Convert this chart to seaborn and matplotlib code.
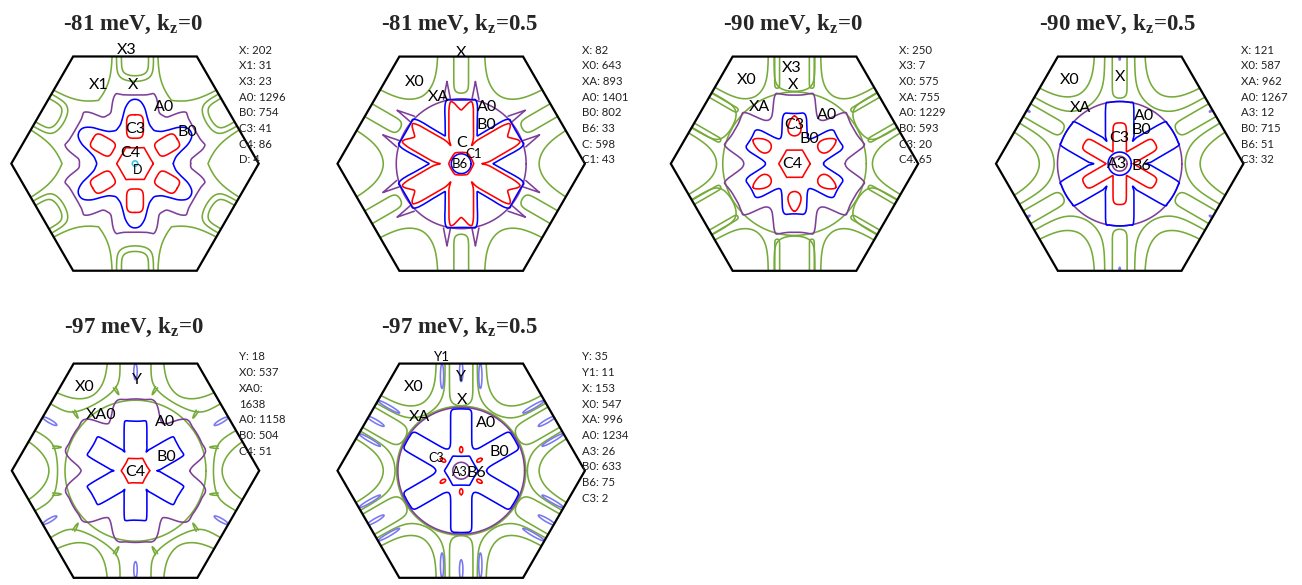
import numpy as np
import pandas as pd
import seaborn as sns
import matplotlib.pyplot as plt
from matplotlib.patches import Polygon

# style
sns.set_theme(style="white")
plt.rcParams['font.family'] = ['Lato', 'DejaVu Sans']
plt.rcParams['mathtext.fontset'] = 'custom'
plt.rcParams['mathtext.rm'] = 'Liberation Serif'
plt.rcParams['mathtext.bf'] = 'Liberation Serif:bold'

GREEN, PURPLE, BLUE, RED = '#76ab3a', '#7f3f98', '#0000ff', '#ff0000'
CYAN, LAV = '#3cc6de', '#7878f0'

# ---- data (hexagon corner = 1) ----
titles = ['-81 meV, k$_\\mathbf{z}$=0', '-81 meV, k$_\\mathbf{z}$=0.5',
          '-90 meV, k$_\\mathbf{z}$=0', '-90 meV, k$_\\mathbf{z}$=0.5',
          '-97 meV, k$_\\mathbf{z}$=0', '-97 meV, k$_\\mathbf{z}$=0.5']

p1_stats = ['X: 202', 'X1: 31', 'X3: 23', 'A0: 1296', 'B0: 754', 'C3: 41', 'C4: 86', 'D: 4']
p2_stats = ['X: 82', 'X0: 643', 'XA: 893', 'A0: 1401', 'B0: 802', 'B6: 33', 'C: 598', 'C1: 43']
p3_stats = ['X: 250', 'X3: 7', 'X0: 575', 'XA: 755', 'A0: 1229', 'B0: 593', 'C3: 20', 'C4: 65']
p4_stats = ['X: 121', 'X0: 587', 'XA: 962', 'A0: 1267', 'A3: 12', 'B0: 715', 'B6: 51', 'C3: 32']
p5_stats = ['Y: 18', 'X0: 537', 'XA0:', '1638', 'A0: 1158', 'B0: 504', 'C4: 51']
p6_stats = ['Y: 35', 'Y1: 11', 'X: 153', 'X0: 547', 'XA: 996', 'A0: 1234', 'A3: 26',
            'B0: 633', 'B6: 75', 'C3: 2']

# centred pockets: radius sampled from the corner direction (0 deg) to the edge direction (30 deg)
p1_rings = [(PURPLE, [0.45, 0.45, 0.46, 0.49, 0.53, 0.565, 0.585, 0.575, 0.565, 0.56, 0.557, 0.555, 0.555]),
            (BLUE, [0.31, 0.32, 0.34, 0.385, 0.455, 0.505, 0.52]),
            (RED, [0.148, 0.142, 0.136, 0.132, 0.130, 0.128, 0.128]),
            (CYAN, [0.022, 0.022, 0.022])]
p2_rings = [(PURPLE, [0.525, 0.525, 0.525]),
            (BLUE, [0.26, 0.28, 0.305, 0.34, 0.38, 0.44, 0.50, 0.53, 0.525, 0.52, 0.518, 0.516, 0.515]),
            (RED, [0.17, 0.205, 0.235, 0.26, 0.29, 0.33, 0.385, 0.455, 0.505, 0.50, 0.475, 0.45, 0.435]),
            (RED, [0.10, 0.098, 0.096, 0.094, 0.093, 0.092, 0.092]),
            (BLUE, [0.08, 0.08, 0.08])]
p3_rings = [(GREEN, [0.58, 0.58, 0.58]),
            (PURPLE, [0.41, 0.415, 0.43, 0.46, 0.50, 0.55, 0.585, 0.58, 0.57, 0.562, 0.557, 0.555, 0.555]),
            (BLUE, [0.235, 0.238, 0.25, 0.268, 0.295, 0.33, 0.375, 0.405, 0.415, 0.412, 0.408, 0.406, 0.405]),
            (RED, [0.127, 0.121, 0.117, 0.114, 0.112, 0.1104, 0.11])]
p4_rings = [(PURPLE, [0.503, 0.503, 0.503]),
            (BLUE, [0.21, 0.249, 0.272, 0.30, 0.336, 0.383, 0.444, 0.503, 0.503, 0.503, 0.503, 0.503, 0.503]),
            (RED, [0.11, 0.117, 0.128, 0.141, 0.158, 0.18, 0.209, 0.25, 0.30, 0.322, 0.328, 0.33, 0.33]),
            (BLUE, [0.094, 0.094, 0.094]),
            (PURPLE, [0.06, 0.06, 0.06])]
p5_rings = [(GREEN, [0.57, 0.57, 0.57]),
            (PURPLE, [0.44, 0.45, 0.47, 0.50, 0.535, 0.565, 0.585, 0.59, 0.585, 0.58, 0.58, 0.58, 0.58]),
            (BLUE, [0.175, 0.2, 0.218, 0.24, 0.269, 0.306, 0.355, 0.405, 0.41, 0.405, 0.402, 0.40, 0.40]),
            (RED, [0.115, 0.11, 0.105, 0.101, 0.099, 0.098, 0.097])]
p6_rings = [(GREEN, [0.522, 0.522, 0.522]),
            (PURPLE, [0.512, 0.512, 0.512]),
            (BLUE, [0.205, 0.208, 0.215, 0.228, 0.25, 0.283, 0.33, 0.395, 0.48, 0.50, 0.50, 0.50, 0.50]),
            (BLUE, [0.135, 0.13, 0.125, 0.121, 0.118, 0.117, 0.117]),
            (PURPLE, [0.068, 0.068, 0.068])]

# satellite pockets: colour, axis ('e' edge / 'v' corner), distance, side offset, half sizes, squareness, egg
p1_sats = [(RED, 'e', 0.30, 0.0, 0.095, 0.068, 4, 0.0)]
p2_sats = []
p3_sats = [(RED, 'e', 0.305, 0.0, 0.08, 0.05, 2, 0.35)]
p4_sats = [(LAV, 'e', 0.855, 0.0, 0.018, 0.006, 2, 0.0)]
p5_sats = [(LAV, 'e', 0.80, 0.0, 0.065, 0.014, 2, 0.0)]
p6_sats = [(RED, 'e', 0.17, 0.0, 0.024, 0.013, 2, 0.0),
           (LAV, 'e', 0.80, 0.0, 0.08, 0.014, 2, 0.0),
           (LAV, 'e', 0.765, 0.155, 0.10, 0.013, 2, 0.0)]

# open sheets: colour, axis, tip distance, side offset, width, tip length, tip power, flare angle, length
# (negative length = opens toward the centre)
p1_opens = [(GREEN, 'e', 0.71, 0.0, 0.11, 0.025, 0.5, 0, 1.2),
            (GREEN, 'e', 0.665, 0.0, 0.15, 0.035, 0.5, 0, 1.2),
            (GREEN, 'v', 0.59, 0.0, 0.13, 0.07, 1.0, 30, 1.2)]
p2_opens = [(GREEN, 'e', 0.57, 0.0, 0.06, 0.02, 0.5, 0, 1.2),
            (GREEN, 'v', 0.63, 0.0, 0.149, 0.08, 0.5, 30, 1.2),
            (PURPLE, 'e', 0.665, 0.115, 0.0, 0.05, 1.0, 11, -0.145)]
p3_opens = [(GREEN, 'e', 0.585, 0.0, 0.165, 0.04, 0.5, 0, 1.2),
            (GREEN, 'e', 0.61, 0.14, 0.02, 0.01, 0.5, 0, 1.2),
            (GREEN, 'v', 0.63, 0.0, 0.12, 0.06, 0.5, 30, 1.2)]
p4_opens = [(GREEN, 'e', 0.53, 0.0, 0.06, 0.02, 0.5, 0, 1.2),
            (GREEN, 'v', 0.65, 0.0, 0.144, 0.08, 0.5, 30, 1.2),
            (GREEN, 'v', 0.53, 0.0, 0.167, 0.06, 0.5, 30, 1.2)]
p5_opens = [(GREEN, 'v', 0.70, 0.0, 0.15, 0.08, 0.5, 30, 1.2),
            (GREEN, 'v', 0.63, 0.0, 0.22, 0.03, 0.5, 30, 1.2),
            (GREEN, 'v', 0.60, 0.19, 0.01, 0.02, 1.0, 0, 0.07)]
p6_opens = [(GREEN, 'e', 0.525, 0.0, 0.095, 0.03, 0.5, 0, 1.2),
            (GREEN, 'v', 0.63, 0.0, 0.133, 0.07, 0.5, 30, 1.2),
            (GREEN, 'v', 0.535, 0.0, 0.159, 0.05, 0.5, 30, 1.2)]

p1_labels = [('X3', -0.067, 0.922, 11.5), ('X1', -0.296, 0.633, 11.5), ('X', -0.013, 0.633, 11.5),
             ('A0', 0.237, 0.458, 11.5), ('B0', 0.423, 0.256, 11.5), ('C3', 0.0, 0.283, 11.5),
             ('C4', -0.04, 0.086, 11.5), ('D', 0.019, -0.054, 9)]
p2_labels = [('X', 0.0, 0.892, 11.5), ('X0', -0.373, 0.663, 11.5), ('XA', -0.185, 0.542, 11.5),
             ('A0', 0.206, 0.461, 11.5), ('B0', 0.2, 0.313, 11.5), ('C', 0.004, 0.164, 11.5),
             ('C1', 0.104, 0.078, 9.5), ('B6', -0.01, -0.003, 9.5)]
p3_labels = [('X3', -0.023, 0.771, 11.5), ('X0', -0.387, 0.677, 11.5), ('X', -0.01, 0.636, 11.5),
             ('XA', -0.284, 0.456, 11.5), ('A0', 0.26, 0.394, 11.5), ('C3', 0.0, 0.313, 11.5),
             ('B0', 0.117, 0.197, 11.5), ('C4', -0.015, -0.005, 11.5)]
p4_labels = [('X0', -0.402, 0.677, 11.5), ('X', 0.003, 0.698, 11.5), ('XA', -0.315, 0.447, 11.5),
             ('A0', 0.197, 0.385, 11.5), ('B0', 0.178, 0.272, 11.5), ('C3', -0.003, 0.205, 11.5),
             ('A3', -0.024, -0.005, 11.5), ('B6', 0.178, -0.016, 11.5)]
p5_labels = [('X0', -0.408, 0.679, 11.5), ('Y', 0.015, 0.733, 11.5), ('XA0', -0.274, 0.45, 11.5),
             ('A0', 0.239, 0.396, 11.5), ('B0', 0.252, 0.113, 11.5), ('C4', -0.004, -0.008, 11.5)]
p6_labels = [('Y1', -0.158, 0.922, 9.5), ('Y', 0.0, 0.755, 11.5), ('X0', -0.387, 0.674, 11.5),
             ('X', 0.004, 0.571, 11.5), ('XA', -0.338, 0.437, 11.5), ('A0', 0.2, 0.383, 11.5),
             ('B0', 0.309, 0.154, 11.5), ('C3', -0.204, 0.1, 9), ('A3', -0.01, -0.008, 9),
             ('B6', 0.125, -0.016, 11.5)]

# ---- layout in pixels ----
W, H, R = 1302, 585, 123.7
centers = [(135.0, 163.6), (461.2, 163.7), (794.5, 163.7), (1119.7, 163.7), (135.5, 470.7), (461.2, 470.7)]
title_base = [30, 30, 30, 30, 333, 333]
stats_pos = [(239, 50), (582, 50), (899, 50), (1241, 50), (239, 357), (582, 357)]


def closed_spline(pts, n=6):
    p0, p1, p2, p3 = (np.roll(pts, 1, 0), pts, np.roll(pts, -1, 0), np.roll(pts, -2, 0))
    t = np.linspace(0, 1, n, endpoint=False)[None, :, None]
    p0, p1, p2, p3 = [p[:, None, :] for p in (p0, p1, p2, p3)]
    c = 0.5 * (2 * p1 + (-p0 + p2) * t + (2 * p0 - 5 * p1 + 4 * p2 - p3) * t ** 2
               + (-p0 + 3 * p1 - 3 * p2 + p3) * t ** 3)
    c = c.reshape(-1, 2)
    return np.vstack([c, c[:1]])


def ring_xy(samples):
    r = np.asarray(samples, float)
    n = len(r) - 1
    phi = np.linspace(0, 30, n + 1)
    ang = np.concatenate([phi[:-1], 60 - phi[:0:-1]])
    rr = np.concatenate([r[:-1], r[:0:-1]])
    th = np.radians(np.concatenate([ang + 60 * k for k in range(6)]))
    rr = np.tile(rr, 6)
    return closed_spline(np.c_[rr * np.cos(th), rr * np.sin(th)])


def place(axis, d, off, xl, yl):
    base = 90 if axis == 'e' else 0
    out = []
    for k in range(6):
        a = np.radians(base + 60 * k)
        e = np.array([np.cos(a), np.sin(a)])
        tv = np.array([-np.sin(a), np.cos(a)])
        for o in ([off, -off] if off else [0.0]):
            out.append((d + xl)[:, None] * e + (o + yl)[:, None] * tv)
    return out


def sat_xy(axis, d, off, ar, at, n, egg):
    t = np.linspace(0, 2 * np.pi, 160)
    c, s = np.cos(t), np.sin(t)
    xl = ar * np.sign(c) * np.abs(c) ** (2 / n)
    yl = at * np.sign(s) * np.abs(s) ** (2 / n) * (1 - egg * xl / ar)
    return place(axis, d, off, xl, yl)


def open_xy(axis, s0, off, w, lam, p, beta, amax):
    a = amax * np.linspace(0, 1, 140) ** 2
    f = w * (1 - np.exp(-np.abs(a) / lam)) ** p + np.abs(a) * np.tan(np.radians(beta))
    xl = np.r_[a[::-1], a[1:]]
    yl = np.r_[-f[::-1], f[1:]]
    return place(axis, s0, off, xl, yl)


panels = [(p1_rings, p1_sats, p1_opens, p1_labels, p1_stats),
          (p2_rings, p2_sats, p2_opens, p2_labels, p2_stats),
          (p3_rings, p3_sats, p3_opens, p3_labels, p3_stats),
          (p4_rings, p4_sats, p4_opens, p4_labels, p4_stats),
          (p5_rings, p5_sats, p5_opens, p5_labels, p5_stats),
          (p6_rings, p6_sats, p6_opens, p6_labels, p6_stats)]

hexagon = np.array([[np.cos(np.radians(60 * k)), np.sin(np.radians(60 * k))] for k in range(6)])

fig = plt.figure(figsize=(W / 100, H / 100), dpi=100)

for i, (rings, sats, opens, labels, stats) in enumerate(panels):
    cx, cy = centers[i]
    ax = fig.add_axes([(cx - R) / W, (H - cy - 0.866 * R) / H, 2 * R / W, 2 * 0.866 * R / H])

    # collect curves per colour (open sheets first so they sit underneath)
    curves = []
    for col, axis, s0, off, w, lam, p, beta, amax in opens:
        curves += [(col, c) for c in open_xy(axis, s0, off, w, lam, p, beta, amax)]
    for col, samples in rings:
        curves.append((col, ring_xy(samples)))
    for col, axis, d, off, ar, at, n, egg in sats:
        curves += [(col, c) for c in sat_xy(axis, d, off, ar, at, n, egg)]

    rows = []
    for j, (col, xy) in enumerate(curves):
        rows.append(pd.DataFrame({'x': xy[:, 0], 'y': xy[:, 1], 'curve': j, 'band': col}))
    df = pd.concat(rows, ignore_index=True)
    for col in [GREEN, PURPLE, BLUE, RED, CYAN, LAV]:
        sub = df[df['band'] == col]
        if len(sub):
            sns.lineplot(data=sub, x='x', y='y', units='curve', estimator=None, sort=False,
                         color=col, lw=1.15, ax=ax, legend=False)

    hexpatch = Polygon(hexagon, closed=True, fill=False, ec='black', lw=1.6,
                       clip_on=False, zorder=5, transform=ax.transData)
    ax.add_patch(hexpatch)
    for ln in ax.lines:
        ln.set_clip_path(hexpatch)

    ax.set_xlim(-1, 1)
    ax.set_ylim(-0.866, 0.866)
    ax.set_axis_off()

    for s, x, y, fs in labels:
        ax.text(x, y, s, ha='center', va='center', fontsize=fs, color='black', zorder=6)

    fig.text((cx - 2) / W, 1 - title_base[i] / H, titles[i], ha='center', va='baseline',
             fontsize=16.5, fontweight='bold', family='Liberation Serif')

    sx, sy = stats_pos[i]
    for k, line in enumerate(stats):
        fig.text(sx / W, 1 - (sy + k * 15.7) / H, line, ha='left', va='center',
                 fontsize=8.2, color='#222222')

fig.savefig('out.png', dpi=100)
